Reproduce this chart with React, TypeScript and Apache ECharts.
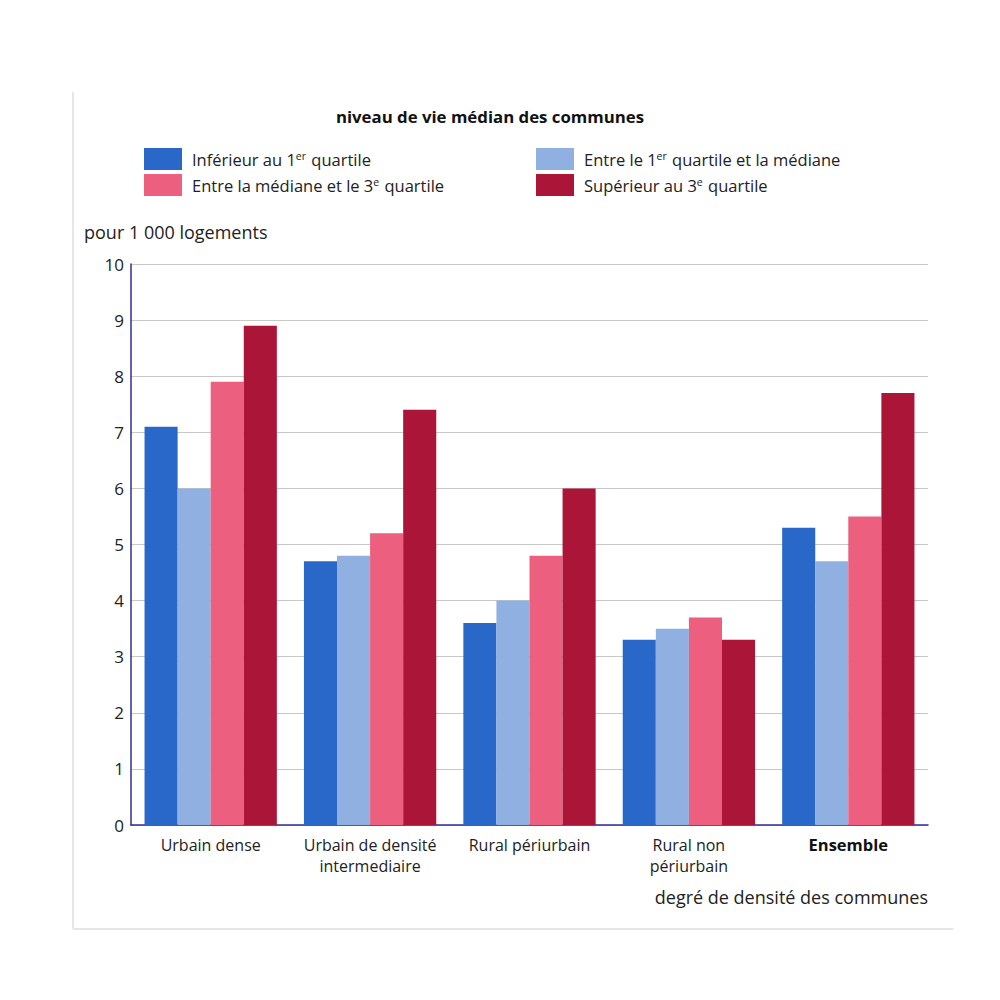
import React, { useEffect, useRef } from "react";
import * as echarts from "echarts";

const categories = [
  "Urbain dense",
  "Urbain de densité\nintermediaire",
  "Rural périurbain",
  "Rural non\npériurbain",
  "Ensemble",
];
const seriesNames = [
  "Inférieur au 1er quartile",
  "Entre le 1er quartile et la médiane",
  "Entre la médiane et le 3e quartile",
  "Supérieur au 3e quartile",
];
const q1Values = [7.1, 4.7, 3.6, 3.3, 5.3];
const q2Values = [6.0, 4.8, 4.0, 3.5, 4.7];
const q3Values = [7.9, 5.2, 4.8, 3.7, 5.5];
const q4Values = [8.9, 7.4, 6.0, 3.3, 7.7];
const yTicks = [0, 10, 1];

const colors = ["#2968c8", "#8fb0e1", "#ec5f7f", "#ab1538"];
const FONT = "'Open Sans', sans-serif";

const legendFormatter = (name: string) => {
  const m = name.match(/^(.*\d)(er|e)( .*)$/);
  if (!m) return `{a|${name}}`;
  return `{a|${m[1]}}{sup|${m[2]}}{a|${m[3]}}`;
};

export default function App() {
  const ref = useRef<HTMLDivElement>(null);
  useEffect(() => {
    if (!ref.current) return;
    const chart = echarts.init(ref.current, null, { renderer: "svg" });
    const legendRich = {
      a: { fontFamily: FONT, fontSize: 16.5, color: "#222", lineHeight: 22 },
      sup: { fontFamily: FONT, fontSize: 10.5, color: "#222", lineHeight: 22, verticalAlign: "top", padding: [2, 1, 0, 0] },
    };
    const legendCommon = {
      orient: "vertical",
      itemWidth: 38,
      itemHeight: 22,
      itemGap: 4,
      padding: 0,
      icon: "rect",
      formatter: legendFormatter,
      textStyle: { rich: legendRich, fontFamily: FONT, fontSize: 16.5, color: "#222", padding: [0, 0, 0, 5] },
      selectedMode: false,
    };
    const values = [q1Values, q2Values, q3Values, q4Values];
    chart.setOption({
      animation: false,
      backgroundColor: "#fff",
      textStyle: { fontFamily: FONT },
      title: {
        text: "niveau de vie médian des communes",
        left: 490,
        textAlign: "center",
        top: 108,
        padding: 0,
        textStyle: { fontFamily: FONT, fontSize: 16.8, fontWeight: "bold", color: "#111" },
      },
      legend: [
        { ...legendCommon, left: 144, top: 148, data: [seriesNames[0], seriesNames[2]] },
        { ...legendCommon, left: 536, top: 148, data: [seriesNames[1], seriesNames[3]] },
      ],
      grid: { left: 131, top: 264, width: 797, height: 561, containLabel: false },
      xAxis: {
        type: "category",
        data: categories,
        axisLine: { show: true, lineStyle: { color: "#2c2c9c", width: 1.5 } },
        axisTick: { show: false },
        axisLabel: {
          margin: 9,
          fontFamily: FONT,
          fontSize: 16,
          color: "#222",
          lineHeight: 21,
          interval: 0,
          formatter: (v: string) => (v === "Ensemble" ? `{b|${v}}` : v),
          rich: { b: { fontFamily: FONT, fontSize: 16.5, fontWeight: "bold", color: "#111", lineHeight: 21 } },
        },
      },
      yAxis: {
        type: "value",
        min: yTicks[0],
        max: yTicks[1],
        interval: yTicks[2],
        axisLine: { show: true, lineStyle: { color: "#2c2c9c", width: 1.5 } },
        axisTick: { show: false },
        axisLabel: { margin: 7, fontFamily: FONT, fontSize: 17, color: "#222" },
        splitLine: { lineStyle: { color: "#c8c8c8", width: 1 } },
      },
      series: seriesNames.map((name, i) => ({
        name,
        type: "bar",
        data: values[i],
        barGap: "0%",
        barCategoryGap: "17%",
        itemStyle: { color: colors[i] },
      })),
      graphic: [
        { type: "line", shape: { x1: 73, y1: 92, x2: 73, y2: 929 }, style: { stroke: "#e6e6e6", lineWidth: 2 } },
        { type: "line", shape: { x1: 73, y1: 929, x2: 953, y2: 929 }, style: { stroke: "#e6e6e6", lineWidth: 2 } },
        {
          type: "text",
          left: 84,
          top: 223,
          style: { text: "pour 1 000 logements", fontFamily: FONT, fontSize: 18, fill: "#222" },
        },
        {
          type: "text",
          right: 72,
          top: 888,
          style: { text: "degré de densité des communes", fontFamily: FONT, fontSize: 18, fill: "#222" },
        },
      ],
    });
    return () => chart.dispose();
  }, []);
  return (
    <div
      ref={ref}
      style={{ position: "fixed", left: 0, top: 0, width: 1000, height: 1000 }}
    />
  );
}
